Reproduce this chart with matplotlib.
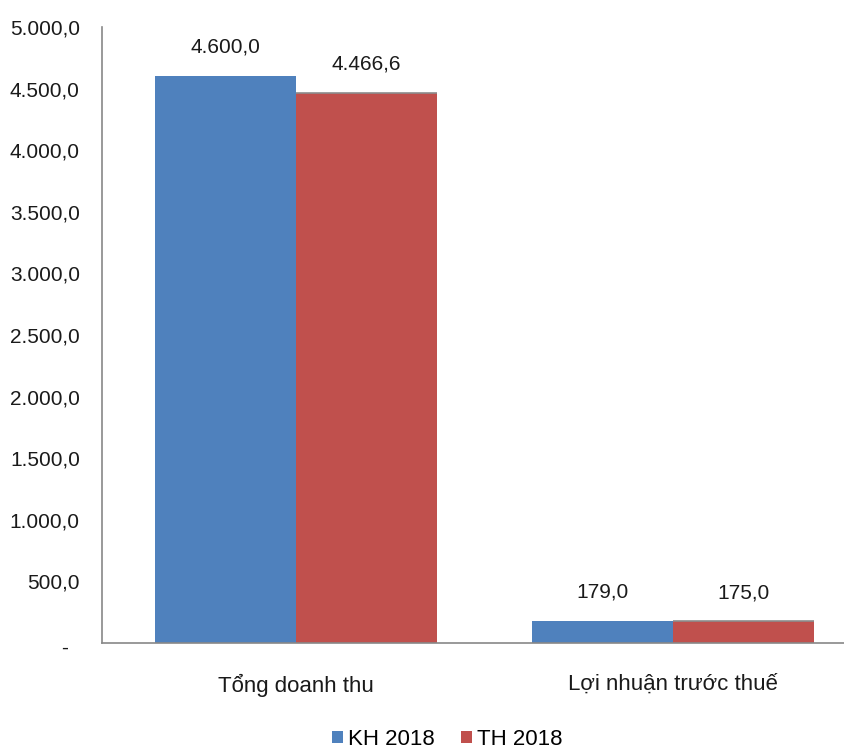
import numpy as np
import matplotlib.pyplot as plt
from matplotlib.ticker import FixedLocator, FuncFormatter
import matplotlib.transforms as mtransforms

plt.rcParams['font.family'] = ['Liberation Sans Narrow', 'Liberation Sans', 'DejaVu Sans']

categories = ['Tổng doanh thu', 'Lợi nhuận trước thuế']
kh_2018 = [4600.0, 179.0]
th_2018 = [4466.6, 175.0]
series_names = ['KH 2018', 'TH 2018']
y_ticks = [0, 500, 1000, 1500, 2000, 2500, 3000, 3500, 4000, 4500, 5000]


def vn_fmt(v, pos=None):
    if v == 0:
        return '-'
    s = '{:,.1f}'.format(v)
    return s.replace(',', 'X').replace('.', ',').replace('X', '.')


fig = plt.figure(figsize=(8.44, 7.51), dpi=100)
ax = fig.add_axes([0.1209, 0.1438, 0.8791, 0.8202])

x = np.arange(len(categories))
w = 0.374
b1 = ax.bar(x - w / 2, kh_2018, w, color='#4F81BD', label=series_names[0])
b2 = ax.bar(x + w / 2, th_2018, w, color='#C0504D', label=series_names[1])
# thin grey top on the red bars
for r in b2:
    ax.plot([r.get_x(), r.get_x() + r.get_width()], [r.get_height()] * 2,
            color='#8C8C8C', lw=1.2, solid_capstyle='butt')

for bars, vals in ((b1, kh_2018), (b2, th_2018)):
    for r, v in zip(bars, vals):
        ax.annotate(vn_fmt(v), (r.get_x() + r.get_width() / 2, r.get_height()),
                    xytext=(0, 14), textcoords='offset points',
                    ha='center', va='bottom', fontsize=15, color='#1a1a1a')

ax.set_xlim(-0.515, 1.454)
ax.set_ylim(0, 5000)
ax.yaxis.set_major_locator(FixedLocator(y_ticks))
ax.yaxis.set_major_formatter(FuncFormatter(vn_fmt))
ax.set_xticks(x)
ax.set_xticklabels(categories, fontsize=16)
ax.tick_params(axis='y', length=0, pad=16, labelsize=15, labelcolor='#1a1a1a')
ax.tick_params(axis='x', length=0, pad=22, labelcolor='#1a1a1a')

# the zero label "-" sits a bit further left and lower, as in Excel accounting format
zero_lbl = ax.get_yticklabels()[0]
zero_lbl.set_transform(zero_lbl.get_transform() +
                       mtransforms.ScaledTranslation(-12 / 100, -3 / 100, fig.dpi_scale_trans))

for s in ('top', 'right'):
    ax.spines[s].set_visible(False)
for s in ('left', 'bottom'):
    ax.spines[s].set_color('#888888')
    ax.spines[s].set_linewidth(1.2)

fig.legend(handles=[b1, b2], labels=series_names, loc='lower center',
           bbox_to_anchor=(0.53, -0.025), ncol=2, frameon=False, fontsize=16,
           handlelength=0.5, handleheight=0.5, handletextpad=0.2, columnspacing=1.2)

fig.savefig('out.png', dpi=100)
